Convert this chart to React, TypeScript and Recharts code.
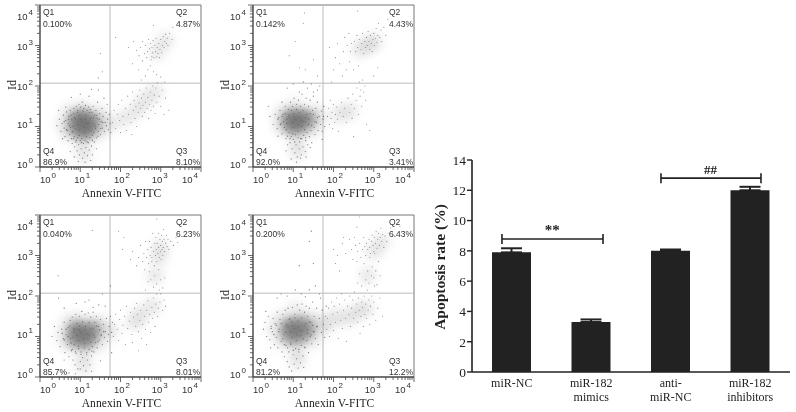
import React from 'react';
import { ScatterChart, Scatter, XAxis, YAxis, ReferenceLine, ReferenceDot, BarChart, Bar, ErrorBar } from 'recharts';

type P = number[];
// Flow-cytometry events, log10 x 100 (Annexin V-FITC, Id)
const blobA: P[] = [[107,111],[95,115],[120,118],[100,100],[115,100],[88,105],[125,105],[105,125],[92,125],[130,118],[85,118],[105,90],[132,108],[118,88],[96,85],[110,82],[112,128],[84,95],[128,92]];
const hazeA: P[] = [[72,135],[145,135],[72,82],[145,85],[60,105],[155,110],[108,60],[105,145],[172,105],[108,30],[260,165],[240,140],[285,185],[290,285],[312,312],[210,120]];
const speckA: P[] = [[60,112],[66,92],[71,118],[74,102],[77,128],[80,86],[83,70],[86,122],[90,66],[93,135],[97,78],[99,128],[103,60],[107,138],[111,84],[114,128],[117,62],[119,96],[123,135],[127,90],[130,66],[133,122],[137,100],[141,128],[144,76],[147,118],[151,95],[156,110],[94,104],[104,112],[113,118],[122,108],[88,118],[100,118],[110,98],[126,120],[82,100],[134,106],[97,92],[116,108]];
const cloudA: P[] = [[42,102],[48,118],[52,88],[55,108],[58,128],[60,96],[62,75],[64,115],[66,136],[68,90],[70,108],[70,65],[72,125],[74,80],[75,140],[76,98],[78,70],[79,118],[80,58],[82,88],[83,132],[84,145],[85,75],[86,50],[88,95],[89,62],[90,150],[92,40],[93,72],[94,140],[96,55],[97,155],[98,30],[100,65],[101,148],[102,45],[104,70],[105,160],[106,22],[108,58],[109,145],[110,35],[112,66],[113,152],[114,48],[116,75],[117,140],[118,28],[120,60],[121,148],[122,42],[124,72],[125,142],[126,16],[128,52],[129,135],[130,78],[132,150],[133,85],[135,62],[136,128],[138,95],[139,140],[140,72],[142,120],[143,160],[145,88],[146,105],[148,132],[150,80],[152,112],[154,145],[155,96],[157,125],[159,170],[160,88],[162,110],[164,135],[165,102],[167,155],[168,118],[170,92],[172,130],[174,108],[176,85],[64,148],[56,70],[46,140],[85,25],[95,14],[112,12],[130,30],[75,38],[140,45],[78,172],[122,175],[100,180],[145,190],[128,192]];
const upperA: P[] = [[180,110],[184,140],[188,95],[192,130],[195,155],[198,115],[200,85],[203,165],[206,125],[208,105],[212,145],[215,90],[218,175],[220,130],[224,155],[226,110],[228,80],[230,185],[232,140],[234,165],[236,120],[238,150],[240,100],[242,175],[244,135],[246,158],[248,190],[250,145],[252,170],[254,125],[256,152],[258,180],[260,135],[262,160],[264,195],[266,145],[268,172],[270,120],[272,155],[274,185],[276,140],[278,165],[280,200],[282,150],[284,178],[286,132],[288,195],[290,160],[292,208],[296,175],[300,150],[304,190],[308,130],[312,170],[320,140],[150,280],[145,220],[155,235],[188,320],[252,215],[262,225],[268,240],[274,250],[282,235],[255,262],[230,255],[245,240],[278,272],[290,228],[300,222],[310,210],[220,295],[232,310],[240,288],[246,275],[250,295],[255,310],[260,280],[262,300],[265,270],[267,285],[270,315],[272,292],[274,305],[276,265],[278,295],[280,282],[281,312],[283,270],[285,300],[287,285],[288,318],[290,272],[291,295],[293,280],[295,305],[297,270],[298,290],[300,315],[302,282],[304,300],[306,322],[308,295],[310,310],[312,328],[314,305],[316,318],[318,300],[322,330],[328,315],[330,345],[282,350]];
const blobB: P[] = [[112,116],[100,120],[125,120],[105,105],[118,108],[92,112],[132,118],[110,128],[95,128],[142,118],[88,120],[112,95],[100,94],[126,130],[130,98],[90,100]];
const hazeB: P[] = [[75,135],[150,135],[75,95],[150,95],[70,115],[165,120],[110,65],[105,150],[110,38],[240,140],[300,310],[285,300],[265,290],[215,130]];
const speckB: P[] = [[62,118],[68,105],[72,125],[76,112],[80,132],[83,92],[86,76],[89,128],[92,70],[95,140],[98,82],[101,132],[104,62],[108,142],[112,88],[115,135],[118,70],[121,100],[124,140],[128,92],[131,72],[134,130],[138,105],[142,132],[146,102],[150,130],[154,112],[160,122],[98,110],[106,118],[116,122],[126,112],[90,122],[102,125],[112,104],[130,122],[84,108],[138,118],[100,98],[120,115]];
const cloudB: P[] = [[38,150],[42,125],[50,105],[55,130],[60,95],[64,122],[67,140],[70,108],[72,82],[75,130],[78,98],[80,150],[82,70],[84,118],[86,55],[88,142],[90,85],[92,60],[93,160],[95,75],[97,45],[98,150],[100,68],[102,170],[104,35],[105,80],[107,55],[108,155],[110,25],[112,72],[113,165],[115,45],[116,62],[118,150],[120,30],[121,70],[122,180],[124,50],[126,78],[128,155],[130,38],[131,65],[132,170],[134,85],[136,55],[138,150],[140,75],[142,165],[144,90],[146,60],[148,140],[150,185],[152,98],[154,80],[156,145],[158,110],[160,160],[162,90],[164,125],[166,200],[168,105],[170,138],[172,88],[174,118],[176,150],[178,100],[85,195],[100,205],[115,185],[125,210],[135,195],[145,205],[150,175],[160,190],[72,160],[62,76],[95,20],[108,12],[118,22],[132,25],[82,40],[142,48],[175,125],[172,68]];
const upperB: P[] = [[185,125],[188,145],[190,105],[192,165],[194,120],[196,135],[198,95],[200,155],[203,110],[205,130],[208,148],[210,118],[212,88],[216,135],[220,160],[224,125],[228,145],[232,110],[236,170],[240,135],[244,155],[246,120],[248,180],[252,145],[256,165],[258,195],[262,130],[264,210],[266,175],[268,190],[270,150],[272,215],[275,185],[278,200],[280,165],[250,75],[290,90],[282,105],[160,225],[90,275],[105,310],[115,245],[130,240],[125,355],[128,380],[150,265],[176,150],[190,295],[195,210],[200,240],[205,270],[210,305],[215,255],[222,225],[225,285],[228,320],[232,240],[234,300],[238,330],[240,260],[242,285],[245,305],[250,240],[252,310],[255,285],[258,325],[260,295],[262,250],[264,315],[268,290],[270,305],[272,330],[275,280],[278,310],[280,295],[282,320],[284,300],[286,335],[288,310],[290,290],[292,325],[294,305],[296,285],[298,315],[300,330],[302,300],[304,318],[306,342],[308,308],[310,325],[312,355],[315,320],[318,338],[320,310],[325,345],[330,325],[335,365],[260,385],[300,225],[310,245]];
const blobC: P[] = [[107,109],[95,112],[120,115],[100,98],[116,98],[85,105],[128,105],[106,123],[90,122],[135,115],[84,118],[105,85],[130,125],[118,84],[92,88],[125,92],[82,92]];
const hazeC: P[] = [[72,135],[145,135],[72,80],[145,82],[60,105],[155,112],[108,55],[100,140],[108,28],[175,115],[250,155],[235,135],[280,175],[295,295],[300,320],[285,250]];
const speckC: P[] = [[55,108],[60,92],[65,118],[70,100],[74,126],[77,84],[80,68],[84,120],[88,62],[92,132],[96,76],[98,126],[102,56],[106,136],[110,82],[113,125],[116,60],[119,94],[122,134],[126,86],[129,64],[132,120],[136,98],[140,126],[144,88],[148,116],[152,102],[158,112],[92,102],[102,110],[112,116],[122,104],[86,116],[98,116],[108,94],[126,118],[80,98],[134,104],[96,90],[116,106]];
const cloudC: P[] = [[30,100],[36,125],[42,90],[45,110],[50,75],[54,118],[58,95],[60,135],[62,60],[65,105],[68,80],[70,122],[72,50],[75,140],[76,95],[78,65],[80,148],[82,42],[84,110],[85,80],[87,30],[89,155],[90,58],[92,118],[94,20],[96,70],[98,150],[100,38],[102,62],[104,162],[106,48],[108,28],[110,72],[112,155],[114,15],[116,55],[118,42],[120,158],[122,68],[124,30],[126,148],[128,52],[130,75],[132,160],[134,62],[136,135],[138,85],[140,150],[142,72],[145,125],[148,92],[150,142],[152,105],[155,80],[158,130],[160,98],[162,112],[165,145],[168,88],[170,105],[172,125],[175,150],[178,110],[180,135],[60,170],[90,182],[112,185],[122,190],[132,172],[146,178],[155,205],[60,42],[72,10],[88,8],[100,20],[128,14],[150,40],[178,60],[46,195],[175,225],[45,250],[162,175]];
const upperC: P[] = [[182,100],[185,130],[188,155],[192,118],[195,90],[198,142],[200,165],[204,108],[206,128],[210,150],[212,80],[215,175],[218,120],[222,138],[225,160],[228,105],[230,85],[232,148],[235,170],[238,125],[240,182],[242,155],[245,112],[248,140],[250,165],[252,95],[255,130],[258,178],[260,150],[262,118],[265,165],[268,188],[270,135],[272,155],[275,110],[278,172],[280,145],[282,195],[284,160],[286,125],[288,180],[290,205],[292,150],[294,170],[296,215],[298,185],[300,205],[305,165],[308,190],[312,175],[245,65],[265,80],[262,215],[268,235],[272,260],[275,240],[278,285],[282,222],[285,250],[290,230],[295,265],[300,240],[305,220],[310,245],[225,290],[230,310],[240,275],[245,295],[250,325],[255,285],[258,305],[260,265],[262,335],[265,295],[268,315],[270,280],[272,335],[274,300],[276,320],[278,295],[280,355],[282,310],[284,275],[285,330],[287,300],[288,345],[289,315],[290,285],[291,330],[293,305],[294,355],[295,320],[296,295],[298,340],[299,310],[300,325],[301,290],[302,350],[303,315],[304,335],[305,300],[306,320],[307,365],[308,340],[310,310],[312,330],[314,350],[316,322],[318,340],[320,315],[325,335],[332,325],[338,345],[342,332],[290,390],[208,345],[205,315],[195,360],[130,362]];
const blobD: P[] = [[110,120],[98,122],[122,128],[100,108],[118,110],[88,115],[132,120],[108,134],[92,130],[142,122],[84,126],[108,98],[134,106],[120,95],[95,92],[125,140],[82,104]];
const hazeD: P[] = [[72,145],[150,145],[70,90],[150,92],[55,120],[165,125],[110,65],[105,165],[110,38],[185,130],[258,160],[235,145],[280,170],[300,310],[320,335],[285,250],[205,150]];
const speckD: P[] = [[45,120],[52,105],[58,128],[64,112],[70,132],[74,94],[78,80],[82,126],[86,72],[90,142],[94,84],[97,136],[100,66],[104,146],[108,90],[111,138],[114,68],[118,102],[121,146],[125,94],[128,74],[131,132],[136,108],[140,136],[144,104],[148,128],[152,112],[158,124],[94,112],[103,120],[113,124],[123,114],[87,124],[99,127],[109,104],[127,126],[81,110],[135,116],[97,98],[117,116]];
const cloudD: P[] = [[26,118],[30,135],[34,100],[38,150],[42,92],[45,125],[48,112],[50,145],[53,80],[55,132],[58,98],[60,160],[62,72],[65,118],[67,142],[70,88],[72,62],[74,155],[76,105],[78,50],[80,165],[82,78],[84,130],[85,38],[87,170],[89,62],[90,25],[92,145],[94,80],[96,15],[98,172],[100,55],[102,32],[104,155],[106,70],[108,45],[110,178],[112,22],[114,62],[116,165],[118,35],[120,78],[122,180],[124,52],[126,24],[128,160],[130,72],[132,175],[134,90],[136,150],[138,60],[140,170],[142,100],[144,135],[146,82],[148,185],[150,112],[152,150],[155,95],[158,170],[160,125],[162,80],[165,145],[168,195],[170,110],[172,165],[175,130],[178,98],[180,150],[182,175],[60,195],[85,200],[105,215],[120,205],[130,198],[140,215],[155,225],[165,205],[150,280],[115,275],[140,335],[145,360],[70,205],[32,162],[44,72]];
const upperD: P[] = [[183,118],[185,145],[188,170],[190,100],[192,130],[195,185],[198,155],[200,115],[202,175],[205,135],[208,195],[210,160],[212,95],[215,180],[218,140],[220,205],[222,120],[225,165],[228,190],[230,145],[232,88],[235,175],[238,155],[240,200],[242,125],[245,170],[248,190],[250,145],[252,210],[255,160],[258,180],[260,135],[262,195],[264,165],[266,108],[268,150],[270,185],[272,172],[274,125],[276,200],[278,155],[280,180],[282,145],[284,215],[286,165],[288,190],[290,130],[292,175],[295,200],[298,155],[300,185],[302,225],[305,140],[310,170],[315,195],[322,150],[260,232],[265,255],[270,225],[276,280],[280,240],[285,262],[288,232],[290,295],[294,250],[296,272],[300,245],[302,305],[305,262],[308,228],[312,285],[316,250],[200,315],[205,280],[210,300],[215,262],[222,330],[230,305],[240,340],[245,315],[248,290],[252,345],[255,325],[258,285],[260,310],[265,330],[268,295],[272,315],[275,345],[278,322],[280,300],[282,330],[285,315],[288,340],[290,320],[292,305],[294,335],[296,350],[298,325],[300,310],[302,345],[304,330],[306,360],[308,318],[310,340],[312,355],[314,325],[316,345],[318,368],[320,335],[322,352],[325,320],[328,348],[332,335],[338,355],[342,368],[350,350],[365,372],[265,395],[258,370],[225,345]];

const panels = [
  { left: 40, top: 5, blob: blobA, haze: hazeA, speck: speckA, cloud: cloudA, upper: upperA, q: ['0.100%', '4.87%', '8.10%', '86.9%'] },
  { left: 253, top: 5, blob: blobB, haze: hazeB, speck: speckB, cloud: cloudB, upper: upperB, q: ['0.142%', '4.43%', '3.41%', '92.0%'] },
  { left: 40, top: 215, blob: blobC, haze: hazeC, speck: speckC, cloud: cloudC, upper: upperC, q: ['0.040%', '6.23%', '8.01%', '85.7%'] },
  { left: 253, top: 215, blob: blobD, haze: hazeD, speck: speckD, cloud: cloudD, upper: upperD, q: ['0.200%', '6.43%', '12.2%', '81.2%'] },
];

const decades = [0, 1, 2, 3, 4];
const minorOffsets = [0.3, 0.48, 0.6, 0.7, 0.78, 0.85, 0.9, 0.95];
const logTicks = [...decades, ...[0, 1, 2, 3].flatMap((d) => minorOffsets.map((m) => d + m))];
const xNudge = [8, 2, 1.5, -1, -11];
const yNudge = [-2, -1.5, 1, 1.5, 12];
const gateX = 1.74;
const gateY = 2.07;
const SANS = '"Liberation Sans", Arial, sans-serif';
const SERIF = '"Liberation Serif", "Times New Roman", serif';

const pts = (list: P[]) => list.map(([x, y]) => ({ x: x / 100, y: y / 100 }));
const dot = (r: number, fill: string, opacity: number, blur = 0) => (p: any) => (
  <circle cx={p.cx} cy={p.cy} r={r} fill={fill} fillOpacity={opacity} style={blur ? { filter: `blur(${blur}px)` } : undefined} />
);

const Power = ({ x, y, d, anchor }: any) => (
  <text x={x} y={y} fontFamily={SANS} fontSize={9.5} fill="#333" textAnchor={anchor}>
    10<tspan dy={-5} dx={1} fontSize={8}>{d}</tspan>
  </text>
);

const XTick = ({ x, y, payload }: any) => {
  const v = payload.value;
  const major = decades.includes(v);
  return (
    <g>
      <line x1={x} x2={x} y1={y} y2={y + (major ? 5 : 3)} stroke="#444" strokeWidth={0.8} />
      {major && <Power x={x + xNudge[v]} y={y + 16} d={v} anchor="middle" />}
    </g>
  );
};
const YTick = ({ x, y, payload }: any) => {
  const v = payload.value;
  const major = decades.includes(v);
  return (
    <g>
      <line x1={x} x2={x - (major ? 5 : 3)} y1={y} y2={y} stroke="#444" strokeWidth={0.8} />
      {major && <Power x={x - 7} y={y + yNudge[v] + 3} d={v} anchor="end" />}
    </g>
  );
};

const qLabel = (x: number, y: number, text: string, key: string) => (
  <text key={key} x={x} y={y} fontFamily={SANS} fontSize={8.5} fill="#333">{text}</text>
);

const Flow = ({ left, top, blob, haze, speck, cloud, upper, q }: any) => (
  <div style={{ position: 'absolute', left: left - 40, top: top - 5 }}>
    <ScatterChart width={210} height={205} margin={{ top: 5, right: 9, bottom: 0, left: 0 }}>
      <XAxis type="number" dataKey="x" domain={[0, 4]} ticks={logTicks} interval={0} height={38} tickSize={0} tickMargin={0}
        tick={<XTick />} tickLine={false} axisLine={{ stroke: '#444', strokeWidth: 1.4 }} />
      <YAxis type="number" dataKey="y" domain={[0, 4]} ticks={logTicks} interval={0} width={40} tickSize={0} tickMargin={0}
        tick={<YTick />} tickLine={false} axisLine={{ stroke: '#444', strokeWidth: 1.4 }} />
      <ReferenceLine x={4} stroke="#777" strokeWidth={1} />
      <ReferenceLine y={4} stroke="#777" strokeWidth={1} />
      <Scatter data={pts(haze)} isAnimationActive={false} shape={dot(9, '#999', 0.2, 4.5)} />
      <Scatter data={pts(blob)} isAnimationActive={false} shape={dot(8, '#6a6a6a', 0.24, 3)} />
      <ReferenceLine x={gateX} stroke="#bbb" strokeWidth={1} />
      <ReferenceLine y={gateY} stroke="#bbb" strokeWidth={1} />
      <Scatter data={pts(speck)} isAnimationActive={false} shape={dot(0.65, '#666', 0.9)} />
      <Scatter data={pts(cloud)} isAnimationActive={false} shape={dot(0.6, '#666', 0.9)} />
      <Scatter data={pts(upper)} isAnimationActive={false} shape={dot(0.55, '#777', 0.85)} />
      {qLabel(43, 15, 'Q1', 'q1')}
      {qLabel(43, 27, q[0], 'v1')}
      {qLabel(176, 15, 'Q2', 'q2')}
      {qLabel(176, 27, q[1], 'v2')}
      {qLabel(43, 154, 'Q4', 'q4')}
      {qLabel(43, 165, q[3], 'v4')}
      {qLabel(176, 154, 'Q3', 'q3')}
      {qLabel(176, 165, q[2], 'v3')}
      <text x={121.5} y={197} textAnchor="middle" fontFamily={SERIF} fontSize={11.5} fill="#222" letterSpacing={0.1}>Annexin V-FITC</text>
      <text transform="rotate(-90 16 85)" x={16} y={85} textAnchor="middle" fontFamily={SERIF} fontSize={12} fill="#222">Id</text>
    </ScatterChart>
  </div>
);

const categories = ['miR-NC', 'miR-182\nmimics', 'anti-\nmiR-NC', 'miR-182\ninhibitors'];
const rates = [7.9, 3.3, 8.0, 12.0];
const errors = [0.27, 0.17, 0.09, 0.23];
const yTicks = [0, 2, 4, 6, 8, 10, 12, 14];
const barData = categories.map((name, i) => ({ name, rate: rates[i], err: [0, errors[i]] }));
const bracketA = { x1: 0.377, x2: 1.648, y: 8.78 };
const bracketB = { x1: 2.377, x2: 3.635, y: 12.8 };
const capH = 0.33;

const CatTick = ({ x, y, payload }: any) => (
  <text x={x} y={y} textAnchor="middle" fontFamily={SERIF} fontSize={12} fill="#222">
    {String(payload.value).split('\n').map((s, i) => (
      <tspan key={i} x={x} dy={i === 0 ? 15 : 14}>{s}</tspan>
    ))}
  </text>
);

const bracketLines = (b: any, k: string) => {
  const ax = { stroke: '#222', strokeWidth: 1.6, ifOverflow: 'visible' as const };
  return [
    <ReferenceLine key={k + 'h'} {...ax} segment={[{ x: b.x1, y: b.y }, { x: b.x2, y: b.y }]} />,
    <ReferenceLine key={k + 'l'} {...ax} segment={[{ x: b.x1, y: b.y - capH }, { x: b.x1, y: b.y + capH }]} />,
    <ReferenceLine key={k + 'r'} {...ax} segment={[{ x: b.x2, y: b.y - capH }, { x: b.x2, y: b.y + capH }]} />,
  ];
};
const chartBox = { top: 15, right: 6, bottom: 40, left: 52 };

export default function App() {
  return (
    <div style={{ position: 'absolute', left: 0, top: 0, width: 796, height: 412, background: '#fff', overflow: 'hidden', filter: 'blur(0.4px)' }}>
      {panels.map((p, i) => <Flow key={i} {...p} />)}
      <div style={{ position: 'absolute', left: 420, top: 145 }}>
        <BarChart width={376} height={267} data={barData} barSize={39} margin={{ top: 15, right: 6, bottom: 0, left: 0 }}>
          <XAxis dataKey="name" height={40} interval={0} tickLine={false} tick={<CatTick />} tickSize={0} tickMargin={0} axisLine={{ stroke: '#222', strokeWidth: 1.6 }} />
          <YAxis domain={[0, 14]} ticks={yTicks} width={52} tickSize={5} tickMargin={1} interval={0} tickLine={{ stroke: '#222', strokeWidth: 1.4 }} axisLine={{ stroke: '#222', strokeWidth: 1.6 }}
            tick={{ fontFamily: SERIF, fontSize: 13.5, fill: '#222' }} />
          <Bar dataKey="rate" fill="#222" isAnimationActive={false}>
            <ErrorBar dataKey="err" direction="y" width={10.5} stroke="#222" strokeWidth={2} isAnimationActive={false} />
          </Bar>
        </BarChart>
      </div>
      <div style={{ position: 'absolute', left: 420, top: 145 }}>
        <ScatterChart width={376} height={267} margin={chartBox}>
          <XAxis type="number" dataKey="x" domain={[0, 4]} allowDataOverflow hide />
          <YAxis type="number" dataKey="y" domain={[0, 14]} allowDataOverflow hide />
          <Scatter data={[{ x: 0, y: 0 }]} isAnimationActive={false} shape={() => null} />
          {bracketLines(bracketA, 'a')}
          {bracketLines(bracketB, 'b')}
          <ReferenceDot x={1.01} y={9.4} r={0} fill="none" stroke="none" label={{ value: '**', fontFamily: SERIF, fontWeight: 700, fontSize: 15, fill: '#222' }} />
          <ReferenceDot x={3.0} y={13.4} r={0} fill="none" stroke="none" label={{ value: '##', fontFamily: SERIF, fontWeight: 700, fontSize: 13, fill: '#222' }} />
          <text transform="rotate(-90 25 122)" x={25} y={122} textAnchor="middle" fontFamily={SERIF} fontSize={15.5} fontWeight={700} fill="#222">Apoptosis rate (%)</text>
        </ScatterChart>
      </div>
    </div>
  );
}
